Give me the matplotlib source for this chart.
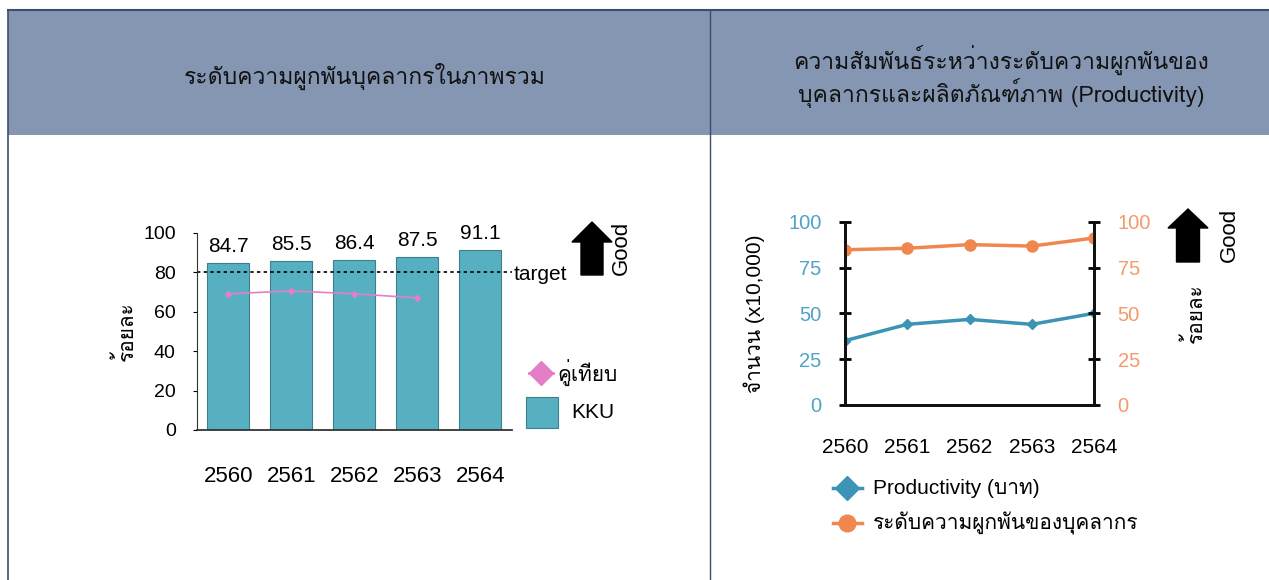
import matplotlib
matplotlib.use("Agg")
import matplotlib.pyplot as plt
from matplotlib.patches import Rectangle, Polygon
from matplotlib.lines import Line2D

# ---------------- data ----------------
years = ["2560", "2561", "2562", "2563", "2564"]
kku_engagement = [84.7, 85.5, 86.4, 87.5, 91.1]
peer_engagement = [69.0, 70.5, 69.0, 67.0]
target_value = 80
productivity = [35.1, 44.0, 46.7, 44.0, 50.0]
engagement_line = [84.7, 85.5, 87.5, 86.7, 91.1]

title_left = "ระดับความผูกพันบุคลากรในภาพรวม"
title_right = ["ความสัมพันธ์ระหว่างระดับความผูกพันของ",
               "บุคลากรและผลิตภัณฑ์ภาพ (Productivity)"]

# ---------------- fonts ----------------
MAIN = ['Liberation Sans', 'Loma', 'DejaVu Sans']
HEAD = ['Liberation Sans Narrow', 'Loma', 'DejaVu Sans']
plt.rcParams['font.family'] = MAIN

W, H = 1269, 580
fig = plt.figure(figsize=(W / 100, H / 100), dpi=100)

def fx(x):
    return x / W

def fy(y):
    return 1 - y / H

def rect_px(x0, y0, x1, y1):
    return [fx(x0), fy(y1), fx(x1) - fx(x0), fy(y0) - fy(y1)]

# header
fig.patches.append(Rectangle((fx(8), fy(135)), fx(1269) - fx(8), fy(10) - fy(135),
                             transform=fig.transFigure, facecolor="#8496b2",
                             edgecolor="none", zorder=0))
fig.add_artist(Line2D([fx(8), fx(1269)], [fy(10), fy(10)], color="#3b4e6c", lw=1.5))
fig.add_artist(Line2D([fx(8), fx(8)], [fy(10), fy(580)], color="#3b4e6c", lw=1.2))
fig.add_artist(Line2D([fx(710), fx(710)], [fy(10), fy(580)], color="#3b4e6c", lw=1.0))

fig.text(fx(365), fy(76), title_left, ha="center", va="center", fontsize=16.5,
         color="#111111", family=HEAD)
fig.text(fx(1001), fy(60), title_right[0], ha="center", va="center", fontsize=16.5,
         color="#111111", family=HEAD)
fig.text(fx(1001), fy(93), title_right[1], ha="center", va="center", fontsize=16.5,
         color="#111111", family=HEAD)

def up_arrow(xc, ytop, ybot, head_w=40, shaft_w=22, head_len=20):
    pts = [(xc - shaft_w / 2, ybot), (xc - shaft_w / 2, ytop + head_len),
           (xc - head_w / 2, ytop + head_len), (xc, ytop),
           (xc + head_w / 2, ytop + head_len), (xc + shaft_w / 2, ytop + head_len),
           (xc + shaft_w / 2, ybot)]
    fig.patches.append(Polygon([(fx(a), fy(b)) for a, b in pts], closed=True,
                               transform=fig.transFigure, facecolor="black", edgecolor="black"))

# ---------------- left chart ----------------
axL = fig.add_axes(rect_px(196.7, 232.7, 511.7, 430))
xs = list(range(len(years)))
axL.bar(xs, kku_engagement, width=0.66, color="#57b0c2", edgecolor="#3f7f8c", linewidth=0.8)
for x, v in zip(xs, kku_engagement):
    axL.annotate(f"{v}", (x, v), xytext=(0, 5), textcoords="offset points",
                 ha="center", va="bottom", fontsize=15)
axL.plot(xs[:len(peer_engagement)], peer_engagement, color="#e27fc7", lw=1.2,
         marker="D", markersize=3)
axL.axhline(target_value, color="black", ls=(0, (2, 2)), lw=1.2)
axL.set_xlim(-0.5, 4.5)
axL.set_ylim(0, 100)
axL.set_yticks([0, 20, 40, 60, 80, 100])
axL.set_xticks(xs)
axL.set_xticklabels(years, fontsize=16)
axL.tick_params(axis="x", length=0, pad=26)
axL.tick_params(axis="y", length=3, pad=12, labelsize=14, direction="out")
for s in ["top", "right"]:
    axL.spines[s].set_visible(False)
axL.spines["left"].set_color("#333333")
axL.spines["bottom"].set_color("#333333")
axL.spines["bottom"].set_linewidth(1.3)
axL.set_ylabel("ร้อยละ", fontsize=15)
axL.yaxis.set_label_coords((137 - 196.7) / 315, 0.5)

fig.text(fx(514), fy(275), "target", ha="left", va="center", fontsize=15)
# legend left
fig.add_artist(Line2D([fx(529), fx(553)], [fy(373), fy(373)], color="#e27fc7", lw=2))
fig.add_artist(Line2D([fx(541)], [fy(373)], color="#e27fc7", marker="D", markersize=12, lw=0))
fig.text(fx(557), fy(373), "คู่เทียบ", ha="left", va="center", fontsize=15)
fig.patches.append(Rectangle((fx(526), fy(428)), fx(32), fy(397) - fy(428),
                             transform=fig.transFigure, facecolor="#57b0c2",
                             edgecolor="#3f7f8c", lw=0.8))
fig.text(fx(571), fy(413), "KKU", ha="left", va="center", fontsize=15)
up_arrow(592, 222, 275)
fig.text(fx(621), fy(248), "Good", rotation=90, ha="center", va="center", fontsize=16)

# ---------------- right chart ----------------
blue = "#3b93b5"
orange = "#f0874f"
axR = fig.add_axes(rect_px(845, 221.7, 1094, 405))
axR2 = axR.twinx()
axR.plot(xs, productivity, color=blue, lw=2.5, marker="D", markersize=5)
axR2.plot(xs, engagement_line, color=orange, lw=2.5, marker="o", markersize=8)
for a in (axR, axR2):
    a.set_xlim(0, 4)
    a.set_ylim(0, 100)
    a.set_yticks([0, 25, 50, 75, 100])
    a.spines["top"].set_visible(False)
    for s in ["left", "right", "bottom"]:
        a.spines[s].set_linewidth(2)
        a.spines[s].set_color("#111111")
axR.set_xticks(xs)
axR.set_xticklabels(years, fontsize=15)
axR.tick_params(axis="x", length=0, pad=24)
axR.tick_params(axis="y", direction="inout", length=8, width=2, pad=13, labelsize=14.5,
                labelcolor="#4fa3c7")
axR2.tick_params(axis="y", direction="inout", length=8, width=2, pad=13, labelsize=14.5,
                 labelcolor="#f4996b")
axR.set_ylabel("จำนวน (x10,000)", fontsize=15)
axR.yaxis.set_label_coords((765 - 845) / 249, 0.5)
axR2.set_ylabel("ร้อยละ", fontsize=15, rotation=90)
axR2.yaxis.set_label_coords((1182 - 845) / 249, 0.5)

# legend right
fig.add_artist(Line2D([fx(833), fx(862)], [fy(488), fy(488)], color=blue, lw=2.5))
fig.add_artist(Line2D([fx(847)], [fy(488)], color=blue, marker="D", markersize=12, lw=0))
fig.text(fx(873), fy(488), "Productivity (บาท)", ha="left", va="center", fontsize=15)
fig.add_artist(Line2D([fx(833), fx(862)], [fy(523), fy(523)], color=orange, lw=2.5))
fig.add_artist(Line2D([fx(847)], [fy(523)], color=orange, marker="o", markersize=12, lw=0))
fig.text(fx(873), fy(523), "ระดับความผูกพันของบุคลากร", ha="left", va="center", fontsize=15)

up_arrow(1188, 209, 262, head_w=40, shaft_w=23, head_len=19)
fig.text(fx(1229), fy(235), "Good", rotation=90, ha="center", va="center", fontsize=16)

fig.savefig("out.png", dpi=100, facecolor="white")
